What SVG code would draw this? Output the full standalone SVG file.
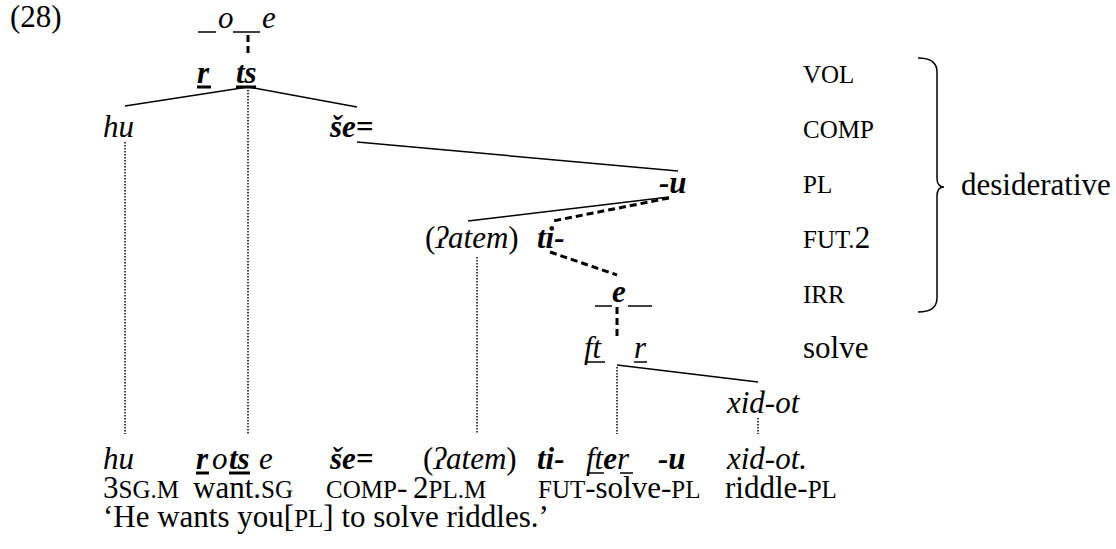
<svg xmlns="http://www.w3.org/2000/svg" width="1116" height="549" viewBox="0 0 1116 549">
<style>
.t{font-family:"Liberation Serif","Times New Roman",serif;font-size:31px;fill:#000}
.i{font-style:italic}
.b{font-weight:bold}
.sc{font-size:25px}
.n{font-size:31px}
.solid{stroke:#000;stroke-width:1.5;fill:none}
.dash{stroke:#000;stroke-width:3;stroke-dasharray:7 4;fill:none}
.dot{stroke:#000;stroke-width:1.5;stroke-dasharray:1.5 1.5;fill:none}
.ul{stroke:#000;stroke-width:1.5}
.ulb{stroke:#000;stroke-width:3}
</style>
<rect width="1116" height="549" fill="#fff"/>
<text class="t" x="10" y="27">(28)</text>

<g id="connectors">
<line class="dash" x1="248" y1="35" x2="248" y2="55"/>
<polyline class="solid" points="125,106 248,87 357,107"/>
<line class="dot" x1="248" y1="90" x2="248" y2="434"/>
<line class="dot" x1="125" y1="142" x2="125" y2="434"/>
<line class="solid" x1="357" y1="142" x2="678" y2="171"/>
<line class="solid" x1="669" y1="197" x2="468" y2="221"/>
<line class="dash" x1="669" y1="198" x2="553" y2="221"/>
<line class="dash" x1="550" y1="252" x2="617" y2="275"/>
<line class="dot" x1="477" y1="257" x2="477" y2="434"/>
<line class="dash" x1="617" y1="307" x2="617" y2="337"/>
<line class="solid" x1="617" y1="365" x2="758" y2="382"/>
<line class="dot" x1="617" y1="367" x2="617" y2="434"/>
<line class="dot" x1="758" y1="418" x2="758" y2="434"/>
</g>

<g id="node-vol-template">
<line class="ul" x1="198" y1="32" x2="216" y2="32"/>
<text class="t i" x="218" y="28">o</text>
<line class="ul" x1="233" y1="32" x2="260" y2="32"/>
<text class="t i" x="262" y="28">e</text>
</g>
<g id="node-vol-root">
<text class="t i b" x="197" y="83">r</text>
<line class="ulb" x1="197" y1="87" x2="211" y2="87"/>
<text class="t i b" x="236" y="83">ts</text>
<line class="ulb" x1="236" y1="87" x2="256" y2="87"/>
</g>
<g id="node-hu"><text class="t i" x="103" y="137">hu</text></g>
<g id="node-se"><text class="t i b" x="330" y="137">še=</text></g>
<g id="node-u"><text class="t i b" x="659" y="193">-u</text></g>
<g id="node-atem"><text class="t" x="425" y="248">(<tspan class="i">ʔatem</tspan>)</text></g>
<g id="node-ti"><text class="t i b" x="537" y="248">ti-</text></g>
<g id="node-e">
<line class="ul" x1="595" y1="306" x2="612" y2="306"/>
<text class="t i b" x="612" y="302">e</text>
<line class="ul" x1="628" y1="306" x2="652" y2="306"/>
</g>
<g id="node-ftr">
<text class="t i" x="584" y="358">ft</text>
<line class="ul" x1="585" y1="362" x2="605" y2="362"/>
<text class="t i" x="634" y="358">r</text>
<line class="ul" x1="634" y1="362" x2="647" y2="362"/>
</g>
<g id="node-xidot"><text class="t i" x="727" y="413">xid-ot</text></g>

<g id="labels">
<text class="t sc" x="803" y="83">VOL</text>
<text class="t sc" x="803" y="138">COMP</text>
<text class="t sc" x="803" y="193">PL</text>
<text class="t" x="803" y="248"><tspan class="sc">FUT.</tspan>2</text>
<text class="t sc" x="803" y="303">IRR</text>
<text class="t" x="803" y="358">solve</text>
</g>
<g id="bracket">
<path class="solid" d="M918,58 Q937,58 937,72 L937,178 Q937,187 944,187 Q937,187 937,196 L937,298 Q937,312 918,312"/>
<text class="t" x="961" y="195">desiderative</text>
</g>

<g id="example">
<text class="t i" x="103" y="469">hu</text>
<text class="t i b" x="196" y="469">r</text>
<line class="ulb" x1="196" y1="473" x2="209" y2="473"/>
<text class="t i" x="212" y="469">o</text>
<text class="t i b" x="229" y="469">ts</text>
<line class="ulb" x1="229" y1="473" x2="250" y2="473"/>
<text class="t i" x="259" y="469">e</text>
<text class="t i b" x="330" y="469">še=</text>
<text class="t" x="423" y="469">(<tspan class="i">ʔatem</tspan>)</text>
<text class="t i b" x="537" y="469">ti-</text>
<text class="t i" x="586" y="469">ft<tspan class="b">e</tspan>r</text>
<line class="ul" x1="587" y1="473" x2="604" y2="473"/>
<line class="ul" x1="620" y1="473" x2="633" y2="473"/>
<text class="t i b" x="658" y="469">-u</text>
<text class="t i" x="727" y="469">xid-ot.</text>

<text class="t" x="103" y="498">3<tspan class="sc">SG.M</tspan></text>
<text class="t" x="193" y="498">want.<tspan class="sc">SG</tspan></text>
<text class="t sc" x="326" y="498">COMP<tspan class="n">-</tspan></text>
<text class="t" x="413" y="498">2<tspan class="sc">PL.M</tspan></text>
<text class="t" x="538" y="498"><tspan class="sc">FUT</tspan>-solve-<tspan class="sc">PL</tspan></text>
<text class="t" x="725" y="498">riddle-<tspan class="sc">PL</tspan></text>

<text class="t" x="103" y="527">‘He wants you[<tspan class="sc">PL</tspan>] to solve riddles.’</text>
</g>
</svg>
